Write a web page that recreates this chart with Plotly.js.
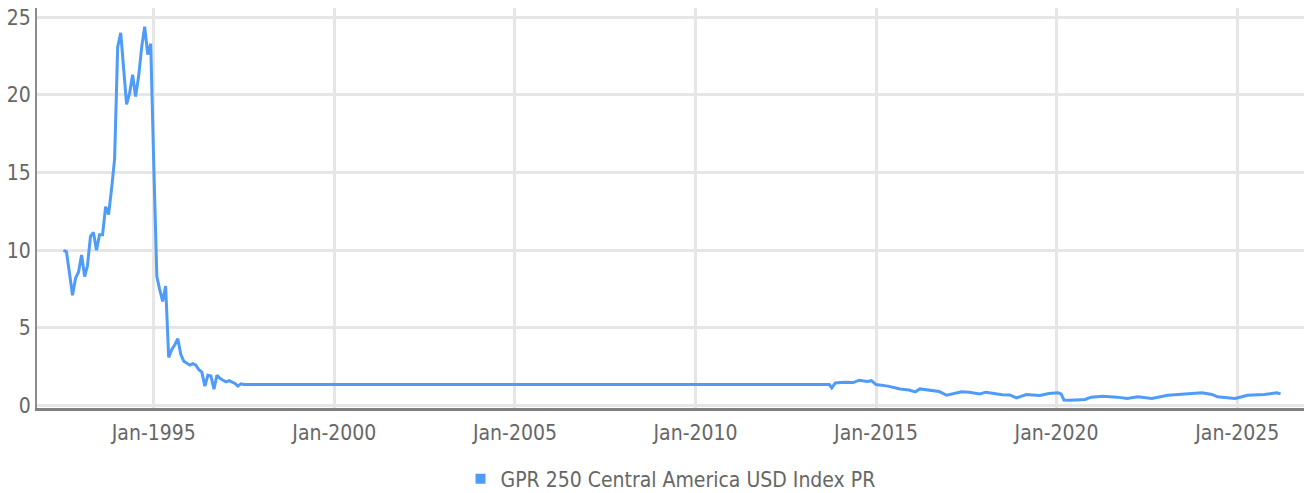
<!DOCTYPE html>
<html>
<head>
<meta charset="utf-8">
<script src="https://cdn.plot.ly/plotly-3.0.1.min.js"></script>
<style>
html,body{margin:0;padding:0;background:#fff;}
#chart{width:1304px;height:493px;}
</style>
</head>
<body>
<div id="chart"></div>
<script>
// Early monthly period
const earlyDates = [
  "1992-07-01","1992-08-01","1992-09-01","1992-10-01","1992-11-01","1992-12-01",
  "1993-01-01","1993-02-01","1993-03-01","1993-04-01","1993-05-01","1993-06-01",
  "1993-07-01","1993-08-01","1993-09-01","1993-10-01","1993-11-01","1993-12-01",
  "1994-01-01","1994-02-01","1994-03-01","1994-04-01","1994-05-01","1994-06-01",
  "1994-07-01","1994-08-01","1994-09-01","1994-10-01","1994-11-01","1994-12-01",
  "1995-01-01","1995-02-01","1995-03-01","1995-04-01","1995-05-01","1995-06-01",
  "1995-07-01","1995-08-01","1995-09-01","1995-10-01","1995-11-01","1995-12-01",
  "1996-01-01","1996-02-01","1996-03-01","1996-04-01","1996-05-01","1996-06-01",
  "1996-07-01","1996-08-01","1996-09-01","1996-10-01","1996-11-01","1996-12-01",
  "1997-01-01","1997-02-01","1997-03-01","1997-04-01","1997-05-01","1997-06-01",
  "1997-07-01"
];
const earlyValues = [
  10.0, 9.9, 8.5, 7.1, 8.2, 8.6,
  9.7, 8.3, 9.0, 10.9, 11.15, 10.0,
  11.0, 11.0, 12.8, 12.3, 14.0, 15.9,
  23.1, 24.0, 21.8, 19.4, 20.1, 21.3,
  19.9, 21.2, 23.1, 24.4, 22.6, 23.3,
  15.5, 8.3, 7.5, 6.7, 7.7, 3.1,
  3.6, 3.9, 4.3, 3.3, 2.85, 2.75,
  2.6, 2.7, 2.6, 2.3, 2.15, 1.25,
  1.95, 1.9, 1.05, 1.95, 1.75, 1.63,
  1.52, 1.6, 1.5, 1.42, 1.25, 1.4,
  1.35
];
// Recent period
const lateDates = [
  "2013-09-15","2013-10-10","2013-11-15","2014-02-15","2014-05-15","2014-07-15",
  "2014-10-01","2014-11-15","2015-01-01","2015-05-01","2015-09-01","2015-12-01",
  "2016-02-01","2016-03-20","2016-08-01","2016-10-01","2016-12-15","2017-03-15",
  "2017-05-15","2017-08-01","2017-11-15","2018-01-15","2018-03-15","2018-07-01",
  "2018-09-15","2018-11-20","2019-03-01","2019-07-15","2019-10-15","2020-01-15",
  "2020-02-15","2020-03-15","2020-05-15","2020-10-15","2020-12-15","2021-04-15",
  "2021-09-01","2021-12-15","2022-04-01","2022-08-20","2023-01-30","2023-07-20",
  "2024-01-10","2024-04-20","2024-06-15","2024-12-10","2025-04-15","2025-10-01",
  "2026-02-05","2026-03-15"
];
const lateValues = [
  1.35, 1.13, 1.45, 1.5, 1.48, 1.63,
  1.55, 1.6, 1.35, 1.25, 1.07, 1.0,
  0.88, 1.07, 0.95, 0.9, 0.66, 0.8,
  0.88, 0.86, 0.75, 0.86, 0.8, 0.7,
  0.68, 0.49, 0.71, 0.64, 0.77, 0.82,
  0.75, 0.36, 0.34, 0.39, 0.54, 0.6,
  0.54, 0.45, 0.56, 0.45, 0.66, 0.75,
  0.82, 0.71, 0.56, 0.45, 0.66, 0.71,
  0.82, 0.75
];
const seriesName = "GPR 250 Central America USD Index PR";
const yTicks = [0, 5, 10, 15, 20, 25];

const color = "#4f9cf8";
const fontFam = "'DejaVu Sans Condensed', 'DejaVu Sans', sans-serif";
const txtColor = "#666666";

const traces = [
  {
    type: "scatter", mode: "lines",
    x: earlyDates.concat(lateDates),
    y: earlyValues.concat(lateValues),
    line: {color: color, width: 3},
    showlegend: false,
    hoverinfo: "x+y"
  },
  {
    type: "scatter", mode: "markers",
    x: [null], y: [null],
    name: seriesName,
    marker: {symbol: "square", size: 10, color: color},
    showlegend: true
  }
];

const layout = {
  width: 1304, height: 493,
  margin: {l: 37, r: 0, t: 8, b: 85, autoexpand: false},
  paper_bgcolor: "#fff", plot_bgcolor: "#fff",
  font: {family: fontFam, size: 21, color: txtColor},
  showlegend: true,
  legend: {
    orientation: "h", x: 0.5, xanchor: "center",
    yref: "container", y: 0.028, yanchor: "middle",
    font: {family: fontFam, size: 21, color: txtColor},
    itemwidth: 30, tracegroupgap: 0
  },
  xaxis: {
    type: "date",
    range: ["1991-10-08", "2026-11-07"],
    tick0: "1995-01-01", dtick: "M60",
    tickformat: "%b-%Y",
    showgrid: true, gridcolor: "#e6e6e6", gridwidth: 3,
    showline: true, linecolor: "#808080", linewidth: 3,
    ticks: "", zeroline: false, automargin: false,
    ticklabelstandoff: 4,
    tickfont: {family: fontFam, size: 21, color: txtColor}
  },
  yaxis: {
    range: [-0.16, 25.6],
    tickvals: yTicks,
    showgrid: true, gridcolor: "#e6e6e6", gridwidth: 3,
    showline: true, linecolor: "#8c8c8c", linewidth: 2,
    ticks: "", zeroline: false, automargin: false,
    tickfont: {family: fontFam, size: 21, color: txtColor}
  }
};

Plotly.newPlot("chart", traces, layout, {displayModeBar: false, staticPlot: true});
</script>
</body>
</html>
